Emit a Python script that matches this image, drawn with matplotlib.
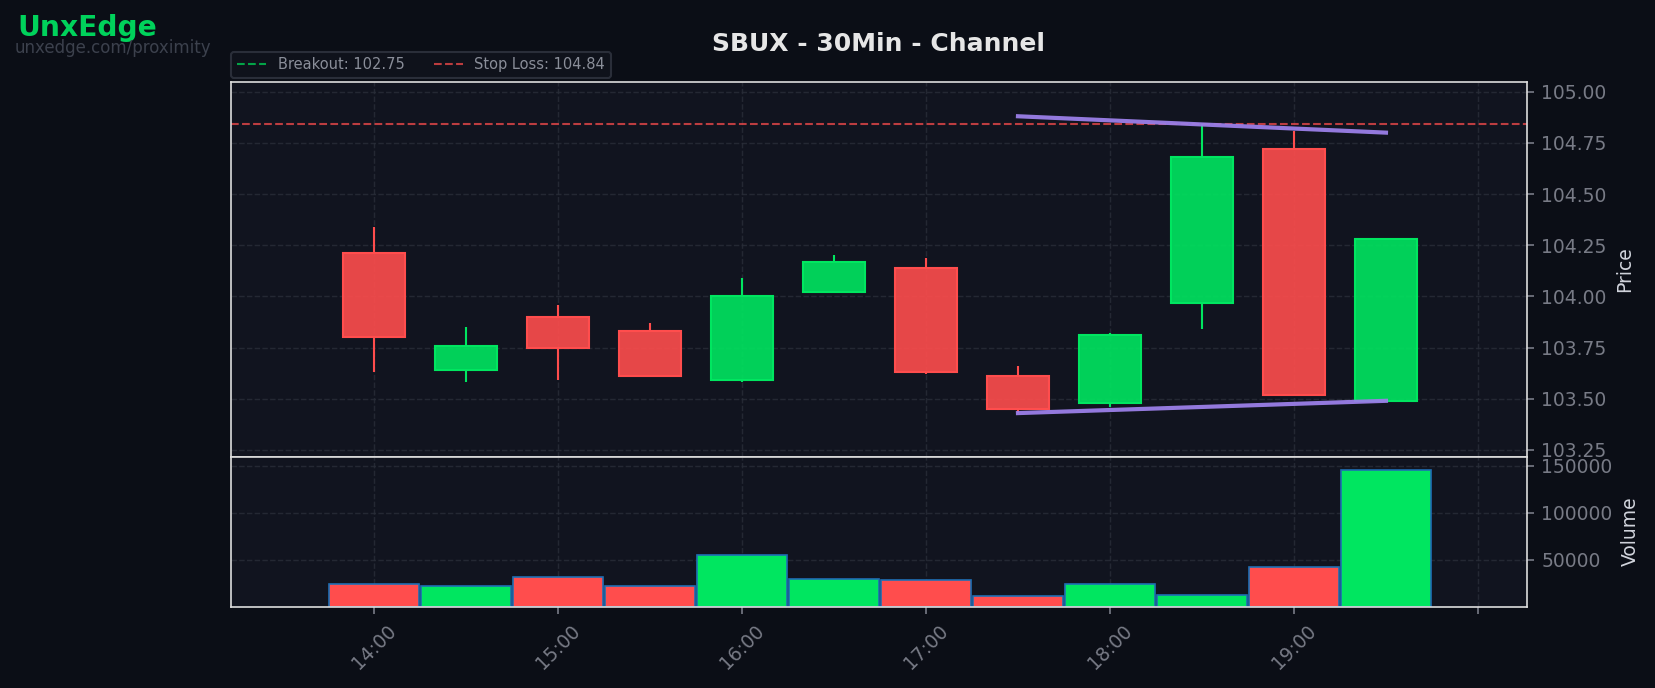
import matplotlib
matplotlib.use("Agg")
import matplotlib.pyplot as plt
import matplotlib.patches as patches
import numpy as np

# 30 minute bars
times = ["14:00", "14:30", "15:00", "15:30", "16:00", "16:30",
         "17:00", "17:30", "18:00", "18:30", "19:00", "19:30"]
opens = [104.21, 103.64, 103.90, 103.83, 103.59, 104.02, 104.14, 103.61, 103.48, 103.97, 104.72, 103.49]
highs = [104.34, 103.85, 103.96, 103.87, 104.09, 104.20, 104.19, 103.66, 103.82, 104.84, 104.81, 104.28]
lows = [103.63, 103.58, 103.59, 103.61, 103.58, 104.02, 103.62, 103.43, 103.46, 103.84, 103.52, 103.49]
closes = [103.80, 103.76, 103.75, 103.61, 104.00, 104.17, 103.63, 103.45, 103.81, 104.68, 103.52, 104.28]
volumes = [24300, 21800, 31800, 21800, 55400, 29700, 28600, 11500, 24300, 12400, 42200, 145300]

breakout = 102.75
stop_loss = 104.84
channel_times = ["17:30", "19:30"]
upper_channel = [104.88, 104.80]
lower_channel = [103.43, 103.49]

hour_ticks = ["14:00", "15:00", "16:00", "17:00", "18:00", "19:00", "20:00"]
hour_labels = ["14:00", "15:00", "16:00", "17:00", "18:00", "19:00", ""]
price_ticks = [103.25, 103.50, 103.75, 104.00, 104.25, 104.50, 104.75, 105.00]
volume_ticks = [50000, 100000, 150000]

BG = '#0b0e16'
PANEL = '#11141f'
GRID = '#2a2e39'
UP = '#00e660'
DOWN = '#ff4d4d'
TICK = '#787b86'


def to_hours(t):
    h, m = t.split(":")
    return int(h) + int(m) / 60.0


x = np.array([to_hours(t) for t in times])

fig = plt.figure(figsize=(1655 / 150, 688 / 150), dpi=150, facecolor=BG)
ax = fig.add_axes([0.1396, 0.3362, 0.7830, 0.5451])
ax_vol = fig.add_axes([0.1396, 0.1182, 0.7830, 0.2180], sharex=ax)

for a in (ax, ax_vol):
    a.set_facecolor(PANEL)
    for s in a.spines.values():
        s.set_color('#dddddd')
        s.set_linewidth(0.8)
    a.grid(True, color=GRID, linestyle='--', linewidth=0.7, alpha=0.8)
    a.set_axisbelow(True)
    a.yaxis.tick_right()
    a.yaxis.set_label_position('right')
    a.tick_params(colors=TICK, labelsize=9, length=3.5, width=0.8)

# candles: wicks above and below the body, then the body
body_w = 1 / 3
for xi, o, h, l, c in zip(x, opens, highs, lows, closes):
    col = UP if c >= o else DOWN
    top, bot = max(o, c), min(o, c)
    if h > top:
        ax.vlines(xi, top, h, color=col, linewidth=1.0, zorder=2)
    if l < bot:
        ax.vlines(xi, l, bot, color=col, linewidth=1.0, zorder=2)
    ax.add_patch(patches.Rectangle((xi - body_w / 2, bot), body_w, top - bot,
                                   facecolor=col, alpha=0.9, edgecolor='none', zorder=3))
    ax.add_patch(patches.Rectangle((xi - body_w / 2, bot), body_w, top - bot,
                                   facecolor='none', edgecolor=col, linewidth=1.0, zorder=4))

ax.axhline(breakout, color='#00c853', linestyle='--', linewidth=1.0, alpha=0.8,
           label=f"Breakout: {breakout:.2f}")
ax.axhline(stop_loss, color=DOWN, linestyle='--', linewidth=1.0, alpha=0.72,
           label=f"Stop Loss: {stop_loss:.2f}")

cx = [to_hours(t) for t in channel_times]
ax.plot(cx, upper_channel, color='#9b7fe8', linewidth=2.0, alpha=0.95, zorder=5)
ax.plot(cx, lower_channel, color='#9b7fe8', linewidth=2.0, alpha=0.95, zorder=5)

ax.set_ylim(103.217, 105.049)
ax.set_yticks(price_ticks)
ax.set_yticklabels([f"{p:.2f}" for p in price_ticks])
ax.set_ylabel("Price", color='#d1d4dc', fontsize=9)
ax.tick_params(axis='x', length=0, labelbottom=False)

leg = ax.legend(loc='lower left', bbox_to_anchor=(0, 1.009), borderaxespad=0, ncol=2,
                fontsize=7, frameon=True, facecolor='#0f121b', edgecolor=GRID,
                labelcolor='#8a8e99', framealpha=1)

# volume
vcols = [UP if c >= o else DOWN for o, c in zip(opens, closes)]
ax_vol.bar(x, volumes, width=0.49, color=vcols, edgecolor='#1f6fb4', linewidth=0.8)
ax_vol.set_ylim(0, max(volumes) * 1.1)
ax_vol.set_yticks(volume_ticks)
ax_vol.set_yticklabels([str(v) for v in volume_ticks])
ax_vol.set_ylabel("Volume", color='#d1d4dc', fontsize=9)

ax_vol.set_xlim(13.223, 20.266)
ax_vol.set_xticks([to_hours(t) for t in hour_ticks])
ax_vol.set_xticklabels(hour_labels, rotation=45)

fig.text(0.531, 1 - 50.7 / 688, "SBUX - 30Min - Channel", ha='center', va='baseline',
         fontsize=12, fontweight='bold', color='#e6e6e6')
fig.text(17 / 1655, 1 - 36 / 688, "UnxEdge", ha='left', va='baseline',
         fontsize=13.5, fontweight='bold', color='#00d25b')
fig.text(15 / 1655, 1 - 53 / 688, "unxedge.com/proximity", ha='left', va='baseline',
         fontsize=8, color='#3c414d')

fig.savefig("out.png", dpi=150, facecolor=BG)
